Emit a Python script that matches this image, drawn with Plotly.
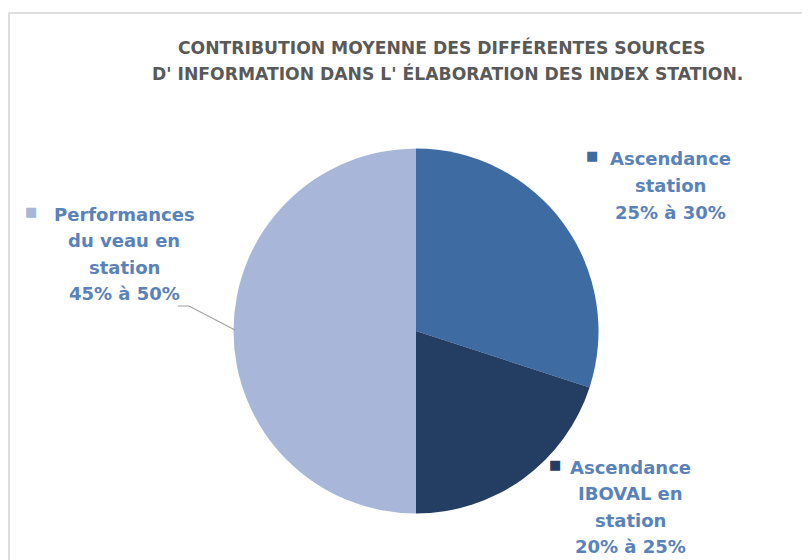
import plotly.graph_objects as go

# Data
categories = ["Ascendance station", "Ascendance IBOVAL en station", "Performances du veau en station"]
values = [30, 20, 50]
label_lines = [
    ["Ascendance", "station", "25% à 30%"],
    ["Ascendance", "IBOVAL en", "station", "20% à 25%"],
    ["Performances", "du veau en", "station", "45% à 50%"],
]
colors = ["#3F6BA3", "#243D63", "#A8B7D9"]
title_lines = [
    "CONTRIBUTION MOYENNE DES DIFFÉRENTES SOURCES",
    "D' INFORMATION DANS L' ÉLABORATION DES INDEX STATION.",
]

W, H = 810, 560
OFF = 8  # page body margin
FONT = "DejaVu Sans"
TXT = "#5A82BA"


def px(x):
    return (x - OFF) / W


def py(y):
    return 1 - (y - OFF) / H


fig = go.Figure()
fig.add_trace(go.Pie(
    labels=categories,
    values=values,
    sort=False,
    direction="clockwise",
    rotation=0,
    marker=dict(colors=colors, line=dict(width=0)),
    textinfo="none",
    hoverinfo="label+value",
    showlegend=False,
    domain=dict(x=[px(233.5), px(598.5)], y=[py(513.5), py(148.5)]),
))

annotations = []
# Title
title_pos = [(442, 48), (447, 73)]
for (tx, ty), t in zip(title_pos, title_lines):
    annotations.append(dict(
        x=px(tx), y=py(ty), xref="paper", yref="paper",
        text=t, showarrow=False,
        font=dict(family=FONT, size=17.2, color="#595959", weight="bold"),
        xanchor="center", yanchor="middle",
    ))

# Slice labels: (center x, first line y, square x, square y)
label_pos = [
    (670, 159, 592, 156),
    (630, 467, 555, 464),
    (124, 214, 31, 211),
]
line_gap = 26.5
for i, lines in enumerate(label_lines):
    cx, y0, sx, sy = label_pos[i]
    annotations.append(dict(
        x=px(sx), y=py(sy), xref="paper", yref="paper",
        text="■", showarrow=False,
        font=dict(family="DejaVu Sans", size=13, color=colors[i]),
        xanchor="center", yanchor="middle",
    ))
    for j, ln in enumerate(lines):
        annotations.append(dict(
            x=px(cx), y=py(y0 + j * line_gap), xref="paper", yref="paper",
            text=ln, showarrow=False,
            font=dict(family=FONT, size=18, color=TXT, weight="bold"),
            xanchor="center", yanchor="middle",
        ))

shapes = [
    # outer frame (top and left visible)
    dict(type="rect", xref="paper", yref="paper",
         x0=1 / W, x1=1.02, y0=-0.02, y1=py(13),
         line=dict(color="#D4D4D4", width=1.5), fillcolor="rgba(0,0,0,0)", layer="below"),
    # leader line for left label
    dict(type="path", xref="paper", yref="paper",
         path=f"M {px(178)} {py(306)} L {px(189)} {py(306)} L {px(235)} {py(330)}",
         line=dict(color="#A0A0A0", width=1.2)),
]

fig.update_layout(
    width=W, height=H,
    margin=dict(l=0, r=0, t=0, b=0),
    paper_bgcolor="white", plot_bgcolor="white",
    annotations=annotations,
    shapes=shapes,
)

fig.write_html("out.html")
